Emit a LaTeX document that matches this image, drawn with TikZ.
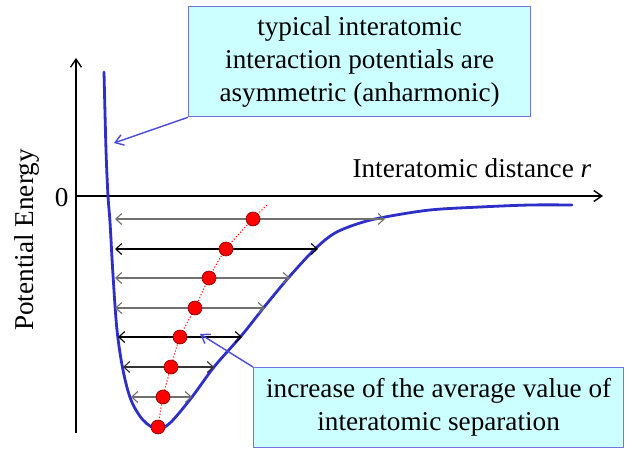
\documentclass[tikz,border=0pt]{standalone}
\usepackage{fontspec}
\setmainfont{Liberation Serif}
\usetikzlibrary{arrows.meta}
\definecolor{boxfill}{HTML}{CCFFFF}
\definecolor{boxline}{HTML}{7373DD}
\definecolor{curveblue}{HTML}{2E2EC8}
\definecolor{callblue}{HTML}{4A4ADC}
\definecolor{lvgray}{HTML}{707070}
\tikzset{
  txt/.style={font=\fontsize{27.2}{33}\selectfont},
  callbox/.style={draw=boxline, line width=1.3pt, fill=boxfill, inner sep=0pt, txt, align=center},
  axis/.style={line width=1.4pt, -{Straight Barb[length=8pt,width=11pt,line width=1.4pt]}},
  lvl/.style={line width=1.1pt, {Straight Barb[length=6pt,width=11pt,line width=1.1pt]}-{Straight Barb[length=6pt,width=11pt,line width=1.1pt]}},
  callarrow/.style={draw=callblue, line width=1.4pt, -{Straight Barb[length=8pt,width=11pt,line width=1.4pt]}},
  dot/.style={circle, fill=red, draw=red!50!black, line width=0.6pt, minimum size=14pt, inner sep=0pt},
}
\begin{document}
\begin{tikzpicture}[x=1pt,y=-1pt]
\useasboundingbox (0,0) rectangle (630,450);
% axes
\coordinate (yb) at (76,433);
\coordinate (yt) at (76,58);
\coordinate (xl) at (76,196);
\coordinate (xr) at (603,196);
\draw[axis] (yb) -- (yt);
\draw[axis] (xl) -- (xr);
\node[txt, anchor=east] (zero) at (72,198) {0};
\node[txt, rotate=90] (ylab) at (27,240) {Potential Energy};
\node[txt, anchor=west] (xlab) at (349,168) {Interatomic distance \textit{r}};
% potential curve
\draw[curveblue, line width=2.8pt, line join=round, line cap=round]
  plot[smooth, tension=0.55] coordinates {
   (104,72) (106,150) (108,196) (110,222) (113,275) (117,330) (123,370)
   (131,400) (143,420) (157,429) (170,423) (192,397) (214,367) (242,335)
   (265,306) (290,276) (315,249) (335,233) (360,223) (385,217) (430,210)
   (480,207) (530,205) (572,205)};
% levels
\foreach \i/\y/\l/\r/\c in {1/219/115/385/lvgray, 2/249/115/318/black, 3/278/115/290/lvgray, 4/308/115/265/lvgray, 5/337/118/242/black, 6/367/123/214/black!80, 7/397/131/192/lvgray}{
  \coordinate (l\i) at (\l,\y);
  \coordinate (r\i) at (\r,\y);
  \draw[lvl, draw=\c] (l\i) -- (r\i);
}
% dotted mean line
\coordinate (dtop) at (268,204);
\draw[red, dotted, line width=1.1pt] plot[smooth, tension=0.5] coordinates {
  (158,427) (163,397) (171,367) (180,337) (195,308) (209,278) (226,249) (253,219) (268,204)};
% dots
\foreach \n/\x/\y in {a/253/219, b/226/249, c/209/278, d/195/308, e/180/337, f/171/367, g/163/397, h/158/427}{
  \node[dot] (d\n) at (\x,\y) {};
}
% callout boxes
\node[callbox, minimum width=342pt, minimum height=110pt, anchor=north west] (top) at (188,6)
  {typical interatomic\\interaction potentials are\\asymmetric (anharmonic)};
\node[callbox, minimum width=370pt, minimum height=80pt, anchor=north west] (bot) at (253,367)
  {increase of the average value of\\interatomic separation};
\coordinate (ta) at (114,143);
\coordinate (ba) at (200,334);
\draw[callarrow] (top.south west) -- (ta);
\draw[callarrow] (bot.north west) -- (ba);
\end{tikzpicture}
\end{document}
